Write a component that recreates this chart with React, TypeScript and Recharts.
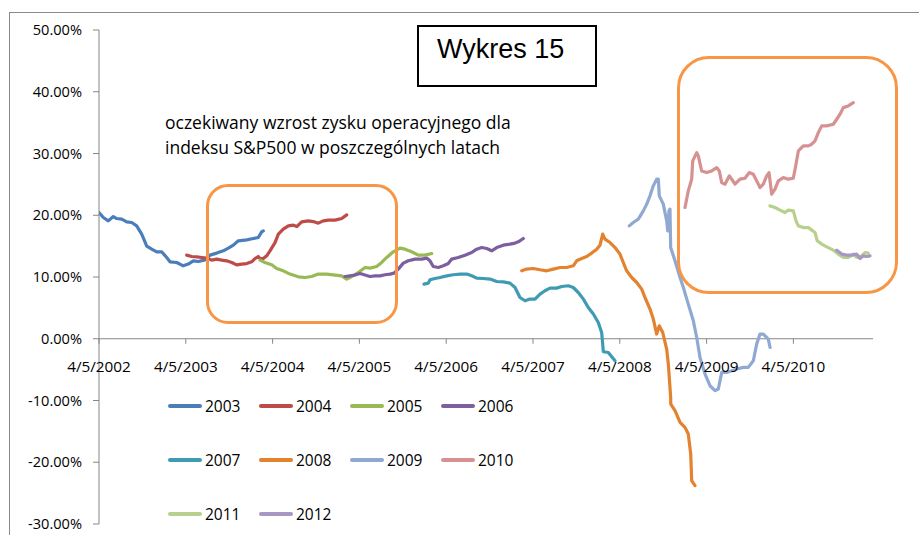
import React from 'react';
import { LineChart, Line, XAxis, YAxis, ReferenceLine, Legend } from 'recharts';

type P = [number, number];

// x = years since 4/5/2002, y = expected growth in %
const YEARS = ['2003', '2004', '2005', '2006', '2007', '2008', '2009', '2010', '2011', '2012'];

const S2003: P[] = [[0,20.44],[0.05,19.63],[0.107,19.09],[0.165,19.79],[0.204,19.47],[0.262,19.37],[0.319,18.93],[0.377,18.82],[0.434,18.28],[0.492,16.94],[0.55,15.0],[0.607,14.51],[0.665,14.08],[0.722,14.08],[0.78,13.16],[0.818,12.46],[0.895,12.35],[0.971,11.81],[1.029,12.09],[1.086,12.62],[1.144,12.51],[1.221,12.78],[1.279,13.54],[1.356,13.87],[1.432,14.24],[1.49,14.68],[1.548,15.16],[1.605,15.86],[1.702,16.02],[1.778,16.23],[1.835,16.39],[1.874,17.31],[1.893,17.48]];
const S2004: P[] = [[1.01,13.54],[1.068,13.32],[1.126,13.27],[1.183,13.16],[1.241,13.06],[1.298,12.73],[1.356,12.9],[1.414,12.73],[1.471,12.62],[1.529,12.35],[1.586,11.97],[1.644,12.09],[1.702,12.18],[1.759,12.46],[1.797,12.99],[1.835,13.32],[1.855,12.99],[1.893,12.99],[1.932,13.43],[1.97,14.24],[2.028,15.58],[2.066,16.94],[2.123,17.75],[2.181,18.28],[2.238,18.4],[2.278,18.17],[2.335,18.93],[2.411,19.09],[2.469,18.98],[2.526,18.72],[2.584,19.09],[2.642,19.21],[2.719,19.21],[2.796,19.47],[2.854,20.06]];
const S2005: P[] = [[1.855,12.73],[1.912,12.35],[1.99,11.97],[2.047,11.38],[2.123,11.0],[2.2,10.47],[2.296,10.03],[2.373,9.92],[2.45,10.08],[2.526,10.47],[2.623,10.47],[2.719,10.31],[2.796,10.19],[2.854,9.66],[2.911,10.08],[2.987,10.73],[3.065,11.54],[3.122,11.44],[3.199,11.7],[3.257,12.35],[3.315,13.16],[3.39,14.08],[3.468,14.68],[3.525,14.51],[3.602,14.08],[3.679,13.54],[3.756,13.54],[3.833,13.8]];
const S2006: P[] = [[2.834,10.08],[2.892,10.19],[2.949,10.31],[3.007,10.57],[3.065,10.31],[3.122,10.08],[3.18,10.19],[3.237,10.19],[3.295,10.36],[3.353,10.47],[3.399,10.63],[3.448,11.28],[3.506,12.25],[3.563,12.62],[3.641,12.9],[3.718,12.9],[3.775,13.06],[3.813,12.62],[3.851,11.7],[3.909,11.54],[3.967,11.81],[4.024,12.18],[4.063,12.9],[4.139,13.16],[4.217,13.54],[4.293,13.96],[4.351,14.51],[4.409,14.77],[4.467,14.61],[4.524,14.24],[4.582,14.77],[4.658,15.16],[4.735,15.32],[4.793,15.49],[4.831,15.7],[4.888,16.23]];
const S2007: P[] = [[3.744,8.85],[3.794,9.01],[3.813,9.55],[3.871,9.76],[3.929,9.92],[4.006,10.19],[4.082,10.36],[4.159,10.47],[4.236,10.47],[4.294,10.19],[4.351,9.82],[4.427,9.76],[4.505,9.66],[4.582,9.27],[4.658,9.22],[4.735,9.01],[4.793,8.3],[4.85,6.68],[4.908,6.15],[4.965,6.42],[5.023,6.42],[5.081,7.23],[5.138,7.77],[5.196,8.2],[5.273,8.2],[5.331,8.46],[5.407,8.58],[5.464,8.3],[5.522,7.49],[5.58,6.42],[5.637,5.06],[5.695,4.0],[5.752,2.64],[5.791,1.02],[5.803,-0.86],[5.81,-2.1],[5.868,-2.22],[5.907,-2.91],[5.945,-3.56]];
const S2008: P[] = [[4.87,11.0],[4.927,11.28],[5.003,11.38],[5.081,11.17],[5.158,11.0],[5.234,11.28],[5.311,11.54],[5.388,11.54],[5.464,11.81],[5.503,12.62],[5.561,12.99],[5.619,13.32],[5.676,13.87],[5.734,14.51],[5.772,15.16],[5.803,16.94],[5.829,16.13],[5.887,15.58],[5.945,14.77],[6.002,13.71],[6.04,12.35],[6.079,11.0],[6.137,9.92],[6.195,9.11],[6.252,8.04],[6.29,6.68],[6.348,4.81],[6.386,3.19],[6.425,0.76],[6.455,2.1],[6.494,1.02],[6.54,-1.67],[6.559,-4.09],[6.586,-9.5],[6.587,-10.57],[6.636,-11.65],[6.694,-13.54],[6.751,-14.35],[6.789,-15.42],[6.817,-18.66],[6.828,-22.98],[6.866,-23.79]];
const S2009: P[] = [[6.109,18.28],[6.155,18.82],[6.213,19.37],[6.271,20.71],[6.31,21.8],[6.348,23.14],[6.386,24.76],[6.425,25.84],[6.444,25.84],[6.455,23.14],[6.501,21.8],[6.54,19.09],[6.552,17.48],[6.567,20.71],[6.578,20.99],[6.586,14.77],[6.636,12.62],[6.694,9.92],[6.732,8.3],[6.789,5.61],[6.847,2.91],[6.886,0.21],[6.924,-3.03],[6.982,-5.71],[7.039,-7.61],[7.097,-8.41],[7.135,-8.14],[7.174,-5.45],[7.232,-5.45],[7.289,-5.18],[7.347,-4.9],[7.423,-4.64],[7.48,-4.64],[7.538,-3.56],[7.577,-0.86],[7.615,0.76],[7.653,0.76],[7.711,-0.05],[7.731,-1.41]];
const S2010: P[] = [[6.751,21.25],[6.789,23.95],[6.828,25.84],[6.84,28.8],[6.886,30.15],[6.904,29.61],[6.943,27.18],[7.001,26.91],[7.059,27.18],[7.116,27.72],[7.146,27.18],[7.174,25.29],[7.212,25.03],[7.262,26.38],[7.289,25.84],[7.327,25.03],[7.385,25.84],[7.442,26.0],[7.492,26.91],[7.538,26.65],[7.577,25.57],[7.615,24.49],[7.653,25.03],[7.692,26.38],[7.719,26.91],[7.75,23.41],[7.788,24.22],[7.826,25.57],[7.884,26.1],[7.941,25.84],[7.999,26.0],[8.03,28.27],[8.057,30.42],[8.114,31.23],[8.172,31.23],[8.211,31.5],[8.249,32.04],[8.287,33.38],[8.326,34.47],[8.384,34.47],[8.46,34.74],[8.499,35.55],[8.537,36.36],[8.575,37.43],[8.632,37.7],[8.69,38.24]];
const S2011: P[] = [[7.73,21.52],[7.788,21.25],[7.846,20.83],[7.903,20.44],[7.941,20.83],[7.999,20.71],[8.03,19.09],[8.057,18.28],[8.114,18.01],[8.172,18.01],[8.211,17.59],[8.249,17.2],[8.275,15.86],[8.326,15.32],[8.384,14.89],[8.46,14.35],[8.517,13.71],[8.575,13.16],[8.632,13.16],[8.69,13.71],[8.729,13.16],[8.787,13.43],[8.825,13.96],[8.863,13.87]];
const S2012: P[] = [[8.499,14.35],[8.556,13.71],[8.614,13.54],[8.671,13.54],[8.729,13.71],[8.767,12.99],[8.806,13.43],[8.844,13.32],[8.882,13.43]];

const SERIES: P[][] = [S2003, S2004, S2005, S2006, S2007, S2008, S2009, S2010, S2011, S2012];
const COLORS = ['#4A7EBB', '#BE4B48', '#98B954', '#7D5FA0', '#3F9AB3', '#E3822F', '#8FA9D2', '#D69191', '#B8D08E', '#A797C2'];

const X_TICKS = [0, 1, 2, 3, 4, 5, 6, 7, 8];
const X_TICK_LABELS = ['4/5/2002', '4/5/2003', '4/5/2004', '4/5/2005', '4/5/2006', '4/5/2007', '4/5/2008', '4/5/2009', '4/5/2010'];
const X_MAX = 8.917;
const Y_TICKS = [-30, -20, -10, 0, 10, 20, 30, 40, 50];
const Y_MIN = -30;
const Y_MAX = 50;

const TITLE = 'Wykres 15';
const SUBTITLE = ['oczekiwany wzrost zysku operacyjnego dla', 'indeksu S&P500 w poszczególnych latach'];

const W = 919;
const H = 535;
const MARGIN = { top: 30, right: 46, bottom: 10, left: 39 };
const YAXIS_W = 60;
const XAXIS_H = 1;
const PLOT_H = H - MARGIN.top - MARGIN.bottom - XAXIS_H;
const ZERO_Y = MARGIN.top + (PLOT_H * (Y_MAX - 0)) / (Y_MAX - Y_MIN);

const FONT = '"Open Sans", sans-serif';
const AXIS_GREY = '#868686';

const XTick = (props: any) => {
  const { x, payload } = props;
  const idx = X_TICKS.indexOf(payload.value);
  return (
    <g>
      <line x1={x} x2={x} y1={ZERO_Y} y2={ZERO_Y + 5} stroke={AXIS_GREY} strokeWidth={1} />
      <text x={x} y={ZERO_Y + 33} textAnchor="middle" fontFamily={FONT} fontSize={15.3} fill="#000">
        {X_TICK_LABELS[idx]}
      </text>
    </g>
  );
};

const LegendGrid = (props: any) => {
  const payload = props.payload || [];
  return (
    <div
      style={{
        display: 'grid',
        gridTemplateColumns: 'repeat(4, 91px)',
        gridAutoRows: '54px',
        fontFamily: FONT,
        fontSize: 15.5,
        color: '#000',
      }}
    >
      {payload.map((p: any, i: number) => (
        <div key={i} style={{ display: 'flex', alignItems: 'center', height: 54 }}>
          <span
            style={{
              display: 'inline-block',
              width: 34,
              height: 4,
              borderRadius: 2,
              background: p.color,
              marginRight: 3,
            }}
          />
          <span>{p.value}</span>
        </div>
      ))}
    </div>
  );
};

export default function App() {
  return (
    <div style={{ position: 'absolute', left: 0, top: 0, width: W, height: H, overflow: 'hidden', background: '#fff' }}>
      <div
        style={{
          position: 'absolute',
          left: 9,
          top: 12,
          width: 2000,
          height: 2000,
          borderTop: '1px solid #8a8a8a',
          borderLeft: '1px solid #8a8a8a',
        }}
      />
      <div style={{ position: 'absolute', left: 0, top: 0 }}>
        <LineChart width={W} height={H} margin={MARGIN}>
          <XAxis
            type="number"
            dataKey="t"
            domain={[0, X_MAX]}
            ticks={X_TICKS}
            interval={0}
            height={XAXIS_H}
            axisLine={false}
            tickLine={false}
            tick={<XTick />}
            allowDataOverflow
          />
          <YAxis
            type="number"
            domain={[Y_MIN, Y_MAX]}
            ticks={Y_TICKS}
            interval={0}
            width={YAXIS_W}
            tickSize={6}
            tickMargin={11}
            axisLine={{ stroke: AXIS_GREY }}
            tickLine={{ stroke: AXIS_GREY }}
            tick={{ fontFamily: FONT, fontSize: 14.6, fill: '#000' }}
            tickFormatter={(v: number) => `${v.toFixed(2)}%`}
          />
          <ReferenceLine y={0} stroke={AXIS_GREY} strokeWidth={1} />
          {SERIES.map((s, i) => (
            <Line
              key={YEARS[i]}
              name={YEARS[i]}
              data={s.map(([t, v]) => ({ t, v }))}
              dataKey="v"
              type="linear"
              stroke={COLORS[i]}
              strokeWidth={3.2}
              strokeLinejoin="round"
              strokeLinecap="round"
              dot={false}
              activeDot={false}
              isAnimationActive={false}
            />
          ))}
          <Legend
            layout="horizontal"
            verticalAlign="middle"
            align="center"
            wrapperStyle={{ left: 168, top: 379, width: 380, height: 162 }}
            content={<LegendGrid />}
          />
        </LineChart>
      </div>
      {/* title box */}
      <div
        style={{
          position: 'absolute',
          left: 417,
          top: 25,
          width: 180,
          height: 62,
          boxSizing: 'border-box',
          border: '2px solid #000',
          background: '#fff',
          fontFamily: '"Liberation Sans", Arial, sans-serif',
          fontSize: 27,
          paddingLeft: 18,
          paddingTop: 7,
          color: '#000',
          whiteSpace: 'nowrap',
        }}
      >
        {TITLE}
      </div>
      {/* subtitle */}
      <div
        style={{
          position: 'absolute',
          left: 165,
          top: 110,
          fontFamily: FONT,
          fontSize: 17.5,
          lineHeight: '25px',
          color: '#000',
          whiteSpace: 'nowrap',
        }}
      >
        {SUBTITLE.map((l, i) => (
          <div key={i}>{l}</div>
        ))}
      </div>
      {/* highlight boxes */}
      <div
        style={{
          position: 'absolute',
          left: 206,
          top: 184,
          width: 192,
          height: 140,
          boxSizing: 'border-box',
          border: '3px solid #F79646',
          borderRadius: 22,
        }}
      />
      <div
        style={{
          position: 'absolute',
          left: 677,
          top: 56,
          width: 221,
          height: 238,
          boxSizing: 'border-box',
          border: '3px solid #F79646',
          borderRadius: 32,
        }}
      />
    </div>
  );
}
